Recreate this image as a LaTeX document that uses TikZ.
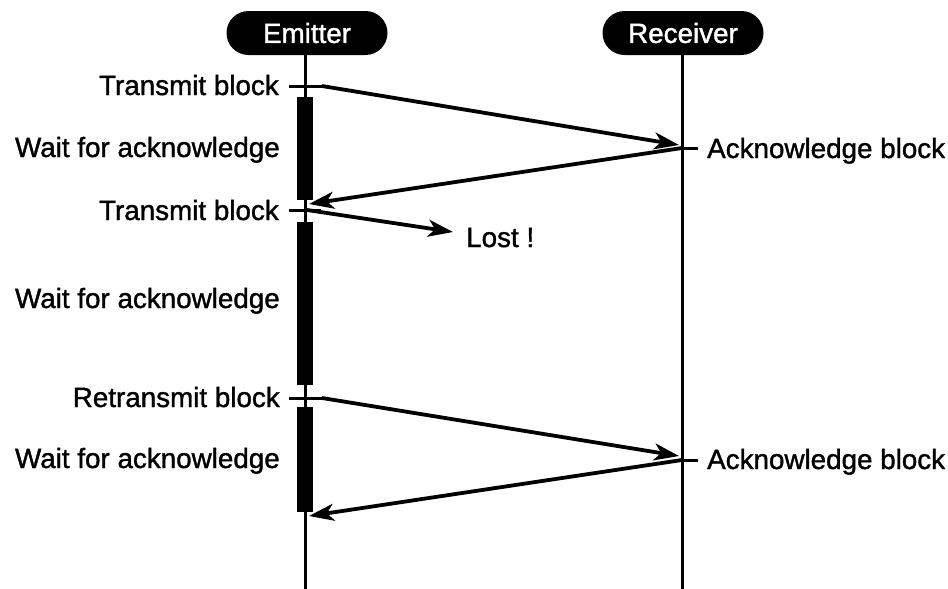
\documentclass[tikz,border=0pt]{standalone}
\usepackage{fontspec}
\setmainfont{Liberation Sans}
\newfontfamily\heavysans{Liberation Sans}[FakeBold=1.3]
\usetikzlibrary{arrows.meta}
\begin{document}
\begin{tikzpicture}[x=1pt,y=-1pt,
  txt/.style={font=\heavysans\fontsize{27.8}{30}\selectfont, inner sep=0pt},
  head/.style={txt, fill=black, text=white, rounded corners=22pt,
    minimum width=161pt, minimum height=44pt},
  life/.style={line width=3pt},
  tickline/.style={line width=3pt},
  bar/.style={fill=black},
  msg/.style={line width=3.8pt, -{Stealth[length=25pt,width=17pt,inset=7pt]}}]
\useasboundingbox (0,0) rectangle (948,589);

% participants and lifelines
\node[head] (em) at (307,33) {Emitter};
\node[head] (rc) at (683,33) {Receiver};
\coordinate (emend) at (305,589);
\coordinate (rcend) at (682,589);
\draw[life] (em.south -| emend) -- (emend);
\draw[life] (rc.south -| rcend) -- (rcend);

% waiting periods on the emitter
\fill[bar] (297,97) rectangle (313,200);
\fill[bar] (297,222) rectangle (313,385);
\fill[bar] (297,407) rectangle (313,512);

% first block: transmitted and acknowledged
\coordinate (t1a) at (289,86);
\coordinate (t1b) at (322,86);
\coordinate (r1in) at (679,145);
\coordinate (r1a) at (682,148);
\coordinate (r1b) at (698,148);
\coordinate (e1in) at (309,204);
\draw[tickline] (t1a) -- (t1b);
\draw[tickline] (r1a) -- (r1b);
\draw[msg] (t1b) -- (r1in);
\draw[msg] (r1a) -- (e1in);

% second block: lost
\coordinate (t2a) at (289,210);
\coordinate (t2b) at (321,210);
\coordinate (t2o) at (307,210);
\coordinate (lostend) at (453,232);
\draw[tickline] (t2a) -- (t2b);
\draw[msg] (t2o) -- (lostend);
\node[txt, anchor=base west] (lost) at (466,247) {Lost !};

% retransmission and acknowledge
\coordinate (t3a) at (289,398);
\coordinate (t3b) at (322,398);
\coordinate (r2in) at (679,456);
\coordinate (r2a) at (682,460);
\coordinate (r2b) at (698,460);
\coordinate (e2in) at (309,516);
\draw[tickline] (t3a) -- (t3b);
\draw[tickline] (r2a) -- (r2b);
\draw[msg] (t3b) -- (r2in);
\draw[msg] (r2a) -- (e2in);

% labels
\node[txt, anchor=base east] (l1) at (279,95) {Transmit block};
\node[txt, anchor=base east] (l2) at (280,157) {Wait for acknowledge};
\node[txt, anchor=base east] (l3) at (279,220) {Transmit block};
\node[txt, anchor=base east] (l4) at (280,308) {Wait for acknowledge};
\node[txt, anchor=base east] (l5) at (280,407) {Retransmit block};
\node[txt, anchor=base east] (l6) at (280,468) {Wait for acknowledge};
\node[txt, anchor=base west] (a1) at (707,158) {Acknowledge block};
\node[txt, anchor=base west] (a2) at (707,469) {Acknowledge block};
\end{tikzpicture}
\end{document}
